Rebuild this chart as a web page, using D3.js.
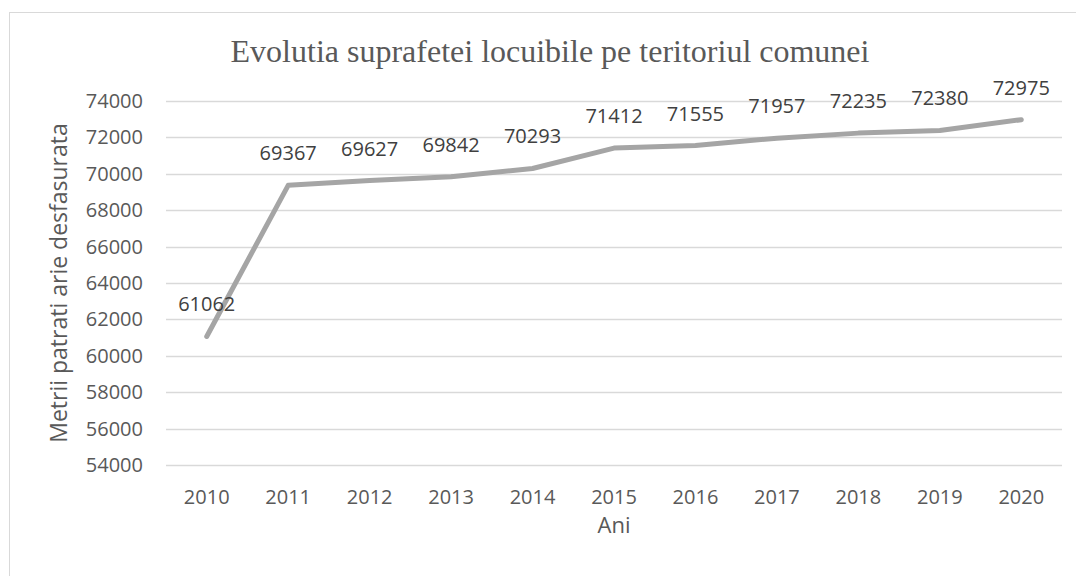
<!DOCTYPE html>
<html>
<head>
<meta charset="utf-8">
<script src="https://cdn.jsdelivr.net/npm/d3@7"></script>
<style>
  body { margin: 0; background: #fff; }
  svg text { font-family: "Open Sans", "Noto Sans", sans-serif; }
</style>
</head>
<body>
<div id="chart"></div>
<script>
// chart data
const years = ["2010", "2011", "2012", "2013", "2014", "2015", "2016", "2017", "2018", "2019", "2020"];
const area = [61062, 69367, 69627, 69842, 70293, 71412, 71555, 71957, 72235, 72380, 72975];
const yTicks = [54000, 56000, 58000, 60000, 62000, 64000, 66000, 68000, 70000, 72000, 74000];

const width = 1076, height = 576;
const margin = { top: 101, right: 14, bottom: 111, left: 166 };
const innerW = width - margin.left - margin.right;
const innerH = height - margin.top - margin.bottom;

const svg = d3.select("#chart").append("svg")
  .attr("width", width)
  .attr("height", height);

// outer chart border
svg.append("rect")
  .attr("x", 9.5).attr("y", 12.5)
  .attr("width", 1080).attr("height", 600)
  .attr("fill", "none")
  .attr("stroke", "#d9d9d9")
  .attr("stroke-width", 1);

const g = svg.append("g")
  .attr("transform", "translate(" + margin.left + "," + margin.top + ")");

const x = d3.scaleBand().domain(years).range([0, innerW]);
const y = d3.scaleLinear().domain([54000, 74000]).range([innerH, 0]);

// gridlines
g.append("g").selectAll("line")
  .data(yTicks)
  .join("line")
  .attr("x1", 0).attr("x2", innerW)
  .attr("y1", d => Math.round(y(d)) + 0.5)
  .attr("y2", d => Math.round(y(d)) + 0.5)
  .attr("stroke", "#d9d9d9")
  .attr("stroke-width", 1.5);

// y axis labels
const yAxis = d3.axisLeft(y).tickValues(yTicks).tickSize(0).tickPadding(23).tickFormat(d3.format("d"));
g.append("g").call(yAxis)
  .call(s => s.select(".domain").remove())
  .selectAll("text")
  .attr("font-size", 20)
  .attr("fill", "#595959");

// x axis labels
const xAxis = d3.axisBottom(x).tickSize(0).tickPadding(25);
g.append("g")
  .attr("transform", "translate(0," + innerH + ")")
  .call(xAxis)
  .call(s => s.select(".domain").remove())
  .selectAll("text")
  .attr("font-size", 20)
  .attr("fill", "#595959");

// the line
const line = d3.line()
  .x((d, i) => x(years[i]) + x.bandwidth() / 2)
  .y(d => y(d));

g.append("path")
  .datum(area)
  .attr("d", line)
  .attr("fill", "none")
  .attr("stroke", "#a5a5a5")
  .attr("stroke-width", 5)
  .attr("stroke-linecap", "round")
  .attr("stroke-linejoin", "round");

// data labels
g.append("g").selectAll("text")
  .data(area)
  .join("text")
  .attr("x", (d, i) => x(years[i]) + x.bandwidth() / 2)
  .attr("y", d => y(d) - 25)
  .attr("text-anchor", "middle")
  .attr("font-size", 20)
  .attr("fill", "#404040")
  .text(d => d);

// title
svg.append("text")
  .attr("x", 550)
  .attr("y", 62)
  .attr("text-anchor", "middle")
  .attr("font-size", 32)
  .attr("fill", "#595959")
  .style("font-family", "'Liberation Serif', 'Times New Roman', serif")
  .text("Evolutia suprafetei locuibile pe teritoriul comunei");

// y axis title
svg.append("text")
  .attr("transform", "translate(67," + (margin.top + innerH / 2) + ") rotate(-90)")
  .attr("text-anchor", "middle")
  .attr("font-size", 23)
  .attr("fill", "#595959")
  .text("Metrii patrati arie desfasurata");

// x axis title
svg.append("text")
  .attr("x", margin.left + innerW / 2)
  .attr("y", 533)
  .attr("text-anchor", "middle")
  .attr("font-size", 22)
  .attr("fill", "#595959")
  .text("Ani");
</script>
</body>
</html>
